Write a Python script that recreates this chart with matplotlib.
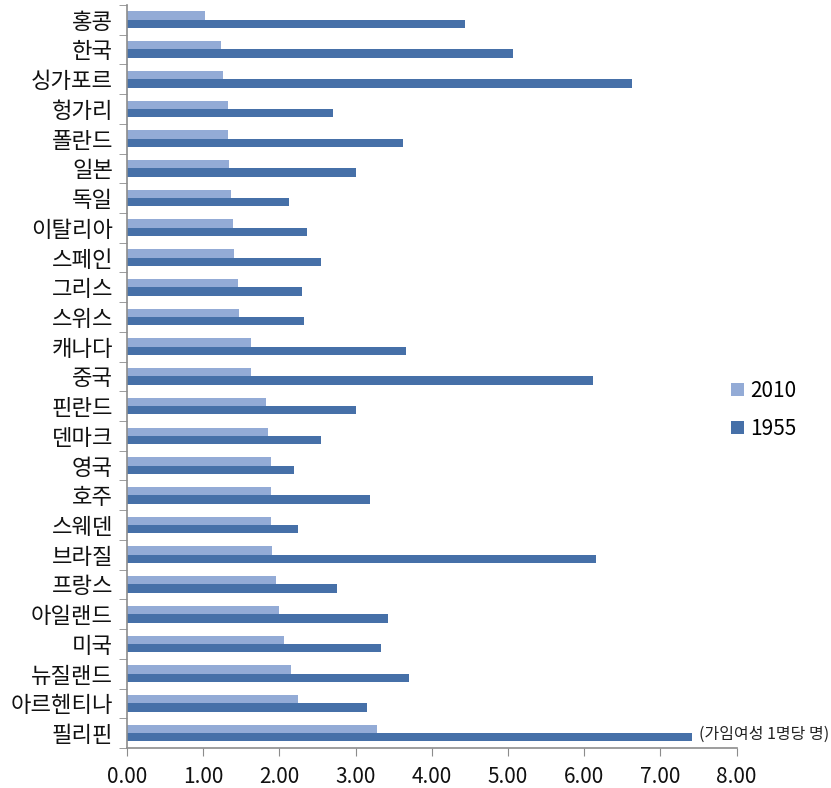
import numpy as np
import matplotlib.pyplot as plt

plt.rcParams['font.family'] = ['Noto Sans CJK KR', 'DejaVu Sans']

countries = ["홍콩", "한국", "싱가포르", "헝가리", "폴란드", "일본", "독일", "이탈리아",
             "스페인", "그리스", "스위스", "캐나다", "중국", "핀란드", "덴마크", "영국",
             "호주", "스웨덴", "브라질", "프랑스", "아일랜드", "미국", "뉴질랜드",
             "아르헨티나", "필리핀"]
v2010 = [1.03, 1.23, 1.26, 1.33, 1.33, 1.34, 1.37, 1.39, 1.40, 1.46, 1.47, 1.63, 1.63,
         1.83, 1.85, 1.89, 1.89, 1.89, 1.90, 1.96, 2.00, 2.06, 2.15, 2.25, 3.28]
v1955 = [4.44, 5.06, 6.62, 2.70, 3.62, 3.00, 2.13, 2.36, 2.54, 2.29, 2.32, 3.66, 6.11,
         3.00, 2.55, 2.19, 3.19, 2.24, 6.15, 2.76, 3.43, 3.33, 3.70, 3.15, 7.42]
xticks = [0, 1, 2, 3, 4, 5, 6, 7, 8]

c2010 = "#93abd6"
c1955 = "#4670a8"
grey = "#8c8c8c"

fig = plt.figure(figsize=(8.31, 7.88), dpi=100)
ax = fig.add_axes([0.1528, 0.0508, 0.7337, 0.943])

y = np.arange(len(countries))
h = 0.28
ax.barh(y - h / 2, v2010, height=h, color=c2010, label="2010")
ax.barh(y + h / 2, v1955, height=h, color=c1955, label="1955")

ax.set_xlim(0, 8)
ax.set_ylim(len(countries) - 0.5, -0.5)
ax.set_xticks(xticks)
ax.set_xticklabels(["%.2f" % t for t in xticks], fontsize=15, color="#111111")
ax.set_yticks(y)
ax.set_yticklabels(countries, fontsize=16, color="#111111")
for lb in ax.get_yticklabels():
    lb.set_fontweight('light')
ax.set_yticks(np.arange(len(countries) + 1) - 0.5, minor=True)
ax.tick_params(axis='y', which='major', length=0, pad=10)
ax.tick_params(axis='y', which='minor', length=6, color=grey, direction='out')
ax.tick_params(axis='x', length=6, color=grey, direction='out', pad=7)

for s in ['top', 'right']:
    ax.spines[s].set_visible(False)
ax.spines['left'].set_color(grey)
ax.spines['bottom'].set_color(grey)
ax.spines['left'].set_linewidth(1.2)
ax.spines['bottom'].set_linewidth(1.2)

ax.text(7.5, y[-1] + 0.05, "(가임여성 1명당 명)", fontsize=11.5, va='center', ha='left',
        color="#222222", clip_on=False)

leg = ax.legend(loc='center left', bbox_to_anchor=(0.96, 0.455), frameon=False,
                fontsize=15, handlelength=0.6, handleheight=0.6, handletextpad=0.3,
                labelspacing=0.8)

fig.savefig("out.png", dpi=100)
